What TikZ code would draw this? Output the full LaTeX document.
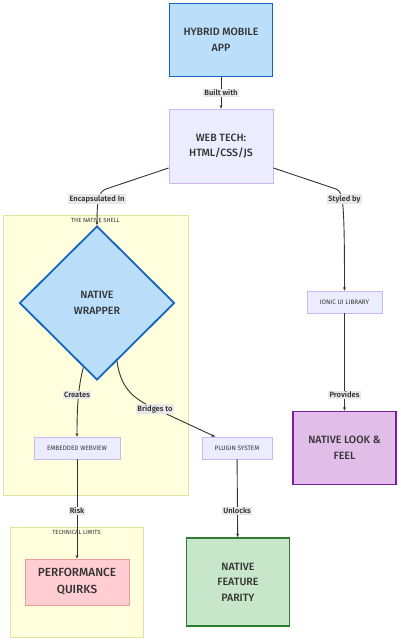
\documentclass[tikz,border=0pt]{standalone}
\usepackage{fontspec}
\setmainfont{Fira Sans}[BoldFont={Fira Sans Medium}]
\usetikzlibrary{shapes.geometric,arrows.meta}

\definecolor{inktext}{HTML}{333333}
\definecolor{inkline}{HTML}{333333}
\definecolor{bluefill}{HTML}{BBDEFB}
\definecolor{blueline}{HTML}{1565C0}
\definecolor{boxfill}{HTML}{ECECFF}
\definecolor{boxline}{HTML}{C9B8F2}
\definecolor{purplefill}{HTML}{E1BEE7}
\definecolor{purpleline}{HTML}{7B1FA2}
\definecolor{redfill}{HTML}{FFCDD2}
\definecolor{redline}{HTML}{EF9A9A}
\definecolor{greenfill}{HTML}{C8E6C9}
\definecolor{greenline}{HTML}{2E7D32}
\definecolor{shellfill}{HTML}{FFFFDE}
\definecolor{shellline}{HTML}{E2E2A0}
\definecolor{labelbg}{HTML}{E8E8E8}

\begin{document}
\begin{tikzpicture}[x=1pt,y=-1pt]
        % Style Definitions
        \tikzstyle{cluster} = [rectangle, draw=shellline, fill=shellfill, line width=0.8pt, inner sep=0pt]
        \tikzstyle{clustertitle} = [text=inktext, font=\fontsize{6}{7}\selectfont, inner sep=0pt]
        \tikzstyle{bigbox} = [rectangle, text=inktext, font=\fontsize{10.6}{15.5}\selectfont\bfseries, align=center, line width=1.8pt, inner sep=0pt]
        \tikzstyle{smallbox} = [rectangle, draw=boxline, fill=boxfill, text=inktext, font=\fontsize{6.4}{7}\selectfont, line width=0.8pt, minimum height=22pt, inner sep=0pt]
        \tikzstyle{edge} = [-{Stealth[length=3.5pt,width=3pt]}, draw=inkline, line width=0.9pt]
        \tikzstyle{elabel} = [fill=labelbg, text=black!85, font=\fontsize{7.6}{8}\selectfont\bfseries, inner sep=1.2pt]

        \useasboundingbox (0,0) rectangle (400,641);

        % Clusters
        \node (shell) [cluster, minimum width=185pt, minimum height=280pt] at (95.5,355) {};
        \node [clustertitle] at (95.5,220) {THE NATIVE SHELL};
        \node (limits) [cluster, minimum width=133pt, minimum height=110pt] at (76.5,582) {};
        \node [clustertitle] at (76.5,532) {TECHNICAL LIMITS};

        % Nodes
        \node (hybrid) [bigbox, draw=blueline, fill=bluefill, minimum width=103pt, minimum height=73pt] at (221,40) {HYBRID MOBILE\\APP};
        \node (webtech) [bigbox, draw=boxline, fill=boxfill, line width=0.8pt, minimum width=104pt, minimum height=74pt] at (221,146) {WEB TECH:\\HTML/CSS/JS};
        \node (wrapper) [bigbox, diamond, draw=blueline, fill=bluefill, minimum width=155pt, minimum height=154pt] at (97,303) {NATIVE\\WRAPPER};
        \node (ionic) [smallbox, minimum width=75pt] at (344.5,302) {IONIC UI LIBRARY};
        \node (webview) [smallbox, minimum width=86pt] at (77,448) {EMBEDDED WEBVIEW};
        \node (plugin) [smallbox, minimum width=70pt] at (237,448) {PLUGIN SYSTEM};
        \node (looknfeel) [bigbox, draw=purpleline, fill=purplefill, minimum width=103pt, minimum height=73pt] at (344.5,448) {NATIVE LOOK \&\\FEEL};
        \node (quirks) [bigbox, draw=redline, fill=redfill, line width=1pt, font=\fontsize{11.8}{17}\selectfont\bfseries, minimum width=104pt, minimum height=46pt] at (77,582) {PERFORMANCE\\QUIRKS};
        \node (parity) [bigbox, draw=greenline, fill=greenfill, minimum width=103pt, minimum height=88pt] at (238,582) {NATIVE\\FEATURE\\PARITY};

        % Arrows
        \draw[edge] (hybrid) -- (webtech);
        \draw[edge] ([yshift=-22pt]webtech.west) -- (106,189) .. controls (99,192) and (97,198) .. (wrapper.north);
        \draw[edge] ([yshift=-22pt]webtech.east) -- (336,189) .. controls (343,192) and (344.5,198) .. (ionic.north);
        \draw[edge] (wrapper.-102) .. controls (79,385) and (77,400) .. (webview.north);
        \draw[edge] (wrapper.-71) .. controls (121,392) and (138,401) .. (158,410) -- ([xshift=-22pt]plugin.north);
        \draw[edge] (ionic) -- (looknfeel);
        \draw[edge] (webview) -- (quirks);
        \draw[edge] (plugin) -- (parity);

        % Edge labels
        \node [elabel] at (221,93) {Built with};
        \node [elabel] at (97,199) {Encapsulated In};
        \node [elabel] at (344.5,199) {Styled by};
        \node [elabel] at (77,395) {Creates};
        \node [elabel] at (155,409) {Bridges to};
        \node [elabel] at (344.5,395) {Provides};
        \node [elabel] at (77,511) {Risk};
        \node [elabel] at (237,511) {Unlocks};

    \end{tikzpicture}
\end{document}
